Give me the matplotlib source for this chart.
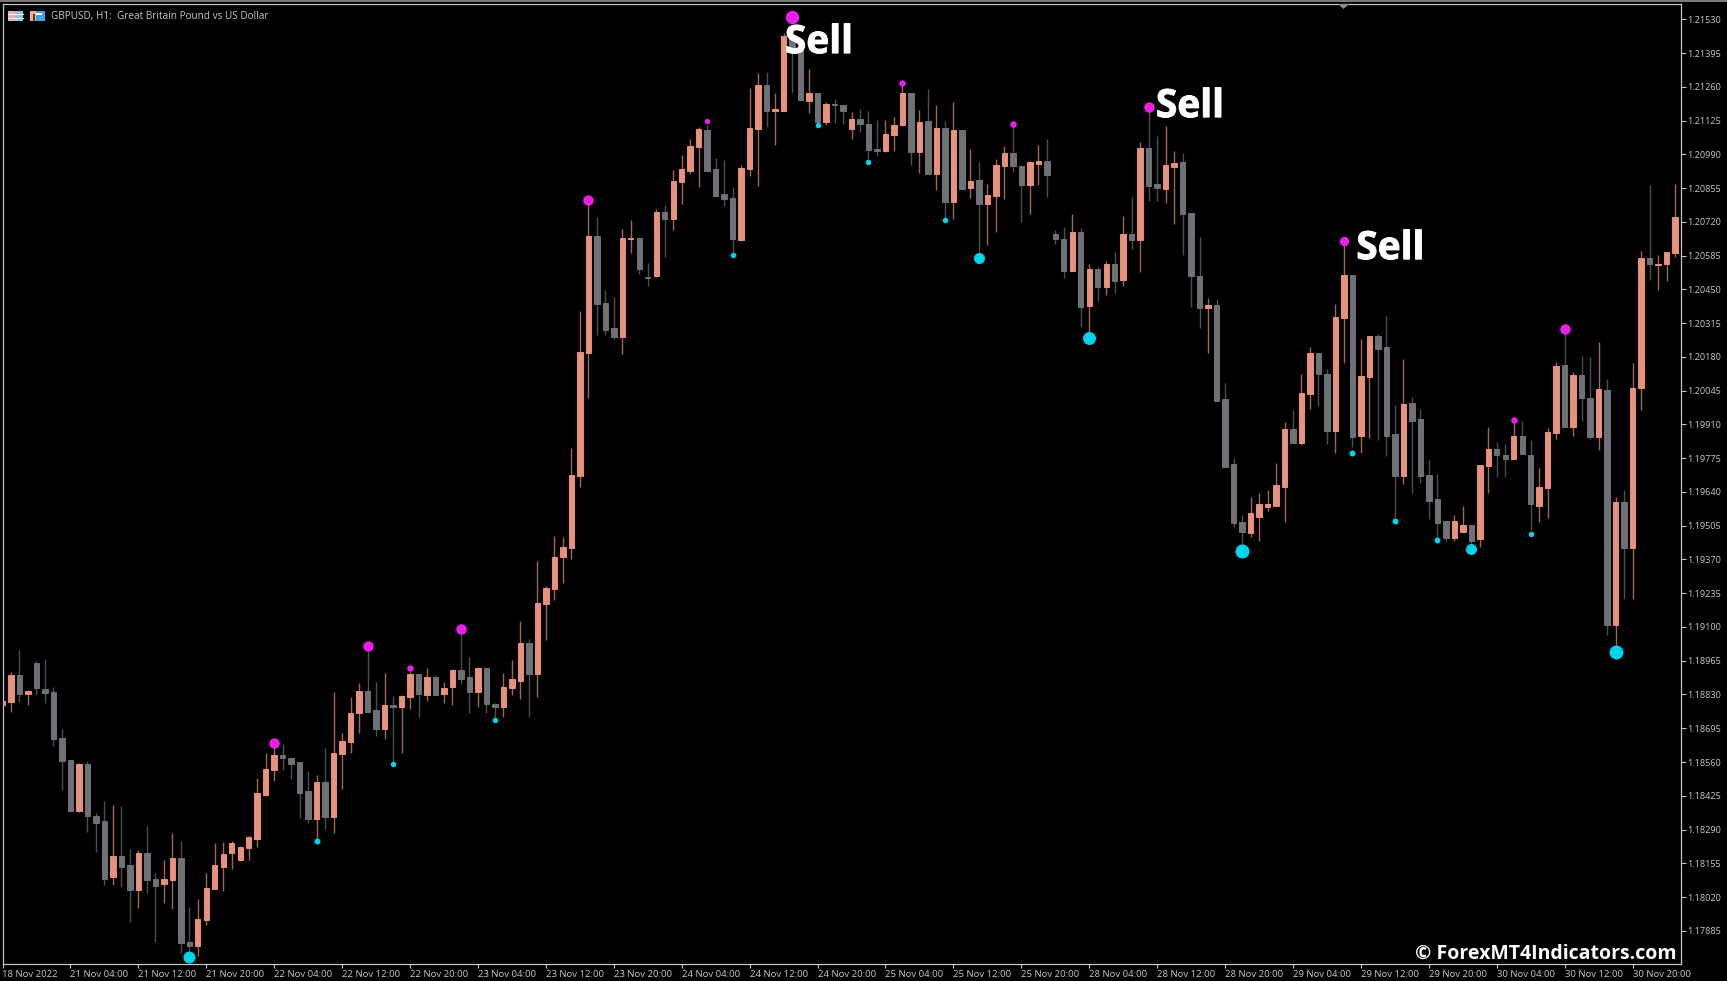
import numpy as np
import matplotlib
matplotlib.use('Agg')
import matplotlib.pyplot as plt
import matplotlib.patheffects as pe
from matplotlib.patches import Rectangle, Polygon

###### GBPUSD H1 candles ######
# values in 1e-5 price points, read against a grid that sits 30 points low (see to_price)
opens = [
    118757, 118769, 118877, 118801, 118925, 118821, 118809, 118625, 118537, 118333,
    118521, 118313, 118293, 118069, 118153, 118117, 118017, 118165, 118061, 118041,
    118057, 118145, 117809, 117793, 117897, 118021, 118109, 118165, 118137, 118185,
    118221, 118397, 118497, 118557, 118545, 118529, 118413, 118301, 118449, 118309,
    118561, 118609, 118725, 118813, 118737, 118661, 118757, 118749, 118789, 118881,
    118797, 118869, 118801, 118829, 118897, 118869, 118809, 118905, 118761, 118749,
    118825, 118853, 119005, 118881, 119161, 119221, 119349, 119385, 119673, 120165,
    120633, 120365, 120265, 120229, 120621, 120625, 120469, 120473, 120729, 120701,
    120849, 120893, 120989, 121057, 120901, 120801, 120785, 120617, 120901, 121061,
    121237, 121133, 121133, 121433, 121389, 121173, 121205, 121089, 121161, 121157,
    121061, 121101, 121081, 120981, 120973, 121037, 121077, 121205, 120969, 121093,
    120881, 121065, 120769, 121057, 120825, 120857, 120761, 120793, 120913, 120965,
    120913, 120837, 120921, 120933, 120641, 120621, 120493, 120649, 120353, 120501,
    120429, 120521, 120457, 120641, 120617, 120985, 120841, 120821, 120909, 120929,
    120725, 120473, 120345, 120357, 119981, 119721, 119489, 119445, 119509, 119549,
    119553, 119629, 119861, 119805, 120001, 120165, 120081, 119853, 120305, 120477,
    119833, 120069, 120233, 120189, 119841, 119673, 119965, 119901, 119677, 119581,
    119493, 119425, 119449, 119477, 119421, 119713, 119781, 119757, 119741, 119833,
    119757, 119553, 119625, 119845, 120117, 119869, 120077, 119985, 119829, 120017,
    119077, 119569, 119385, 120025, 120545, 120517, 120521, 120565]
closes = [
    118773, 118877, 118801, 118813, 118825, 118805, 118621, 118533, 118333, 118521,
    118313, 118285, 118061, 118153, 118109, 118017, 118165, 118057, 118033, 118061,
    118145, 117805, 117793, 117901, 118025, 118117, 118161, 118205, 118189, 118229,
    118405, 118501, 118557, 118545, 118521, 118405, 118301, 118449, 118309, 118565,
    118613, 118725, 118813, 118729, 118661, 118757, 118749, 118793, 118881, 118801,
    118869, 118797, 118825, 118897, 118861, 118809, 118905, 118761, 118749, 118829,
    118861, 119005, 118881, 119165, 119225, 119349, 119389, 119677, 120169, 120633,
    120361, 120257, 120229, 120625, 120625, 120501, 120465, 120729, 120701, 120853,
    120901, 120993, 121061, 120893, 120793, 120781, 120621, 120905, 121065, 121237,
    121133, 121141, 121433, 121377, 121177, 121205, 121089, 121161, 121157, 121133,
    121101, 121081, 120977, 120973, 121041, 121077, 121205, 120969, 121089, 120881,
    121065, 120769, 121057, 120821, 120853, 120761, 120797, 120917, 120965, 120913,
    120837, 120929, 120933, 120877, 120621, 120493, 120649, 120349, 120501, 120429,
    120521, 120453, 120641, 120617, 120985, 120833, 120825, 120917, 120925, 120721,
    120473, 120345, 120357, 119973, 119709, 119485, 119449, 119525, 119561, 119561,
    119637, 119861, 119805, 120005, 120165, 120081, 119853, 120309, 120477, 119829,
    120073, 120233, 120181, 119833, 119673, 119961, 119893, 119673, 119573, 119485,
    119425, 119493, 119477, 119413, 119717, 119781, 119757, 119741, 119833, 119761,
    119561, 119629, 119849, 120113, 119869, 120077, 119985, 119829, 120021, 119077,
    119569, 119385, 120025, 120545, 120521, 120521, 120569, 120709]
highs = [
    118773, 118889, 118977, 118817, 118933, 118941, 118829, 118661, 118537, 118525,
    118533, 118325, 118373, 118357, 118353, 118181, 118177, 118273, 118085, 118137,
    118245, 118213, 117949, 117981, 118085, 118205, 118209, 118213, 118193, 118233,
    118465, 118565, 118589, 118601, 118549, 118529, 118493, 118477, 118585, 118809,
    118645, 118789, 118845, 118977, 118849, 118885, 118793, 118797, 118889, 118881,
    118905, 118877, 118849, 118901, 119041, 118949, 118909, 118905, 118765, 118885,
    118937, 119093, 119021, 119333, 119233, 119433, 119429, 119785, 120333, 120765,
    120709, 120417, 120389, 120661, 120697, 120629, 120525, 120741, 120757, 120897,
    120957, 121021, 121069, 121077, 120945, 120937, 120829, 120917, 121225, 121285,
    121289, 121205, 121445, 121477, 121417, 121301, 121205, 121169, 121181, 121157,
    121129, 121141, 121133, 121097, 121097, 121109, 121237, 121205, 121137, 121221,
    121157, 121093, 121169, 121057, 120981, 120929, 120841, 120941, 120993, 121077,
    120913, 120933, 120997, 121021, 120657, 120669, 120721, 120665, 120521, 120509,
    120533, 120569, 120713, 120789, 121009, 121137, 121033, 121073, 120973, 120965,
    120725, 120629, 120385, 120381, 120045, 119745, 119517, 119589, 119605, 119617,
    119725, 119889, 119937, 120081, 120189, 120165, 120101, 120361, 120597, 120477,
    120221, 120233, 120241, 120313, 119957, 120141, 119989, 119941, 119737, 119681,
    119493, 119517, 119553, 119477, 119717, 119869, 119809, 119801, 119885, 119893,
    119817, 119705, 119865, 120129, 120245, 120089, 120153, 120149, 120209, 120061,
    119589, 119617, 120125, 120573, 120837, 120557, 120569, 120841]
lows = [
    118757, 118729, 118769, 118757, 118797, 118765, 118593, 118417, 118333, 118329,
    118249, 118169, 118037, 118037, 118029, 117889, 117945, 118005, 117809, 117965,
    117941, 117765, 117753, 117753, 117877, 118021, 118013, 118101, 118133, 118137,
    118189, 118393, 118453, 118497, 118461, 118305, 118285, 118217, 118261, 118245,
    118421, 118565, 118645, 118729, 118633, 118621, 118529, 118565, 118741, 118709,
    118773, 118797, 118765, 118757, 118841, 118725, 118749, 118725, 118705, 118709,
    118797, 118781, 118709, 118789, 119017, 119177, 119245, 119341, 119629, 119985,
    120237, 120237, 120221, 120161, 120565, 120481, 120433, 120469, 120549, 120657,
    120761, 120881, 120829, 120893, 120789, 120753, 120565, 120613, 120873, 120833,
    121069, 120997, 121133, 121205, 121177, 121125, 121085, 121077, 121085, 121081,
    121021, 121049, 120937, 120953, 120969, 120973, 121073, 120917, 120885, 120881,
    120817, 120705, 120701, 120817, 120785, 120557, 120597, 120649, 120781, 120889,
    120689, 120721, 120837, 120789, 120601, 120465, 120493, 120269, 120245, 120373,
    120397, 120405, 120433, 120581, 120489, 120773, 120773, 120765, 120681, 120557,
    120349, 120265, 120165, 119973, 119709, 119469, 119389, 119429, 119413, 119533,
    119553, 119489, 119805, 119797, 119941, 119953, 119801, 119765, 120125, 119789,
    119765, 119825, 119817, 119753, 119505, 119641, 119605, 119645, 119501, 119425,
    119413, 119413, 119449, 119389, 119389, 119605, 119669, 119669, 119741, 119761,
    119457, 119489, 119505, 119821, 119869, 119833, 119893, 119821, 119777, 119037,
    118997, 119181, 119181, 119937, 120457, 120417, 120453, 120549]

# signal dots: bar index and price (same points as above)
sell_bars = [32, 43, 48, 54, 69, 83, 93, 106, 119, 135, 158, 178, 184]
sell_prices = [118605, 118993, 118905, 119061, 120777, 121093, 121509, 121245, 121081, 121149, 120613, 119897, 120261]
buy_bars = [22, 37, 46, 58, 86, 96, 102, 111, 115, 128, 146, 159, 164, 169, 173, 180, 190]
buy_prices = [117749, 118213, 118521, 118697, 120557, 121077, 120929, 120697, 120545, 120225, 119373, 119765, 119493, 119417, 119381, 119441, 118969]
sell_sizes = [10.5, 10.5, 6.5, 10.5, 10.5, 5.5, 13.5, 6.5, 6.5, 10.5, 9.5, 6.5, 10.5]
buy_sizes = [12, 6, 5.5, 5.5, 5.5, 5.5, 5.5, 5.5, 11, 13, 14, 6, 6, 6, 11, 5.5, 14]

y_tick_labels = ['1.21530', '1.21395', '1.21260', '1.21125', '1.20990', '1.20855', '1.20720',
                 '1.20585', '1.20450', '1.20315', '1.20180', '1.20045', '1.19910', '1.19775',
                 '1.19640', '1.19505', '1.19370', '1.19235', '1.19100', '1.18965', '1.18830',
                 '1.18695', '1.18560', '1.18425', '1.18290', '1.18155', '1.18020', '1.17885']
x_tick_labels = ['18 Nov 2022', '21 Nov 04:00', '21 Nov 12:00', '21 Nov 20:00', '22 Nov 04:00',
                 '22 Nov 12:00', '22 Nov 20:00', '23 Nov 04:00', '23 Nov 12:00', '23 Nov 20:00',
                 '24 Nov 04:00', '24 Nov 12:00', '24 Nov 20:00', '25 Nov 04:00', '25 Nov 12:00',
                 '25 Nov 20:00', '28 Nov 04:00', '28 Nov 12:00', '28 Nov 20:00', '29 Nov 04:00',
                 '29 Nov 12:00', '29 Nov 20:00', '30 Nov 04:00', '30 Nov 12:00', '30 Nov 20:00']


def to_price(points):
    return (np.array(points) + 30) / 1e5


UP = '#E8917C'
DOWN = '#6E7276'
SELL_DOT = '#E81FE8'
BUY_DOT = '#00D4EC'
AXIS = '#C4C4C4'
TEXT = '#C8C8C8'
W, H = 1727, 981

plt.rcParams['font.family'] = ['Open Sans', 'DejaVu Sans']
fig = plt.figure(figsize=(W/100, H/100), dpi=100, facecolor='black')
ax = fig.add_axes([2.5/W, (H-964)/H, 1678.5/W, 960/H], facecolor='black')
ax.set_xlim(0, 197.7)
ax.set_ylim(1.177523, 1.215912)

o, c, hi, lo = to_price(opens), to_price(closes), to_price(highs), to_price(lows)
x = np.arange(len(o))
colors = [UP if cc >= oo else DOWN for oo, cc in zip(o, c)]
ax.vlines(x, lo, hi, colors=colors, linewidth=1.0, alpha=0.7, zorder=2)
ax.bar(x, np.abs(c-o), bottom=np.minimum(o, c), width=0.64, color=colors, edgecolor=colors, linewidth=0.7, zorder=3)

for xx, yy, s in zip(sell_bars, to_price(sell_prices), sell_sizes):
    ax.plot(xx, yy, 'o', color=SELL_DOT, markersize=s*0.72, markeredgewidth=0, zorder=4, clip_on=False)
for xx, yy, s in zip(buy_bars, to_price(buy_prices), buy_sizes):
    ax.plot(xx, yy, 'o', color=BUY_DOT, markersize=s*0.72, markeredgewidth=0, zorder=4, clip_on=False)

# the three Sell captions
for xx, yy in [(92.15, 1.21395), (135.85, 1.21139), (159.45, 1.20571)]:
    t = ax.text(xx, yy, 'Sell', color='white', fontsize=28, fontweight='bold', ha='left', va='baseline', zorder=6)
    t.set_path_effects([pe.withStroke(linewidth=0.7, foreground='white')])

for side in ax.spines.values():
    side.set_color(AXIS)
    side.set_linewidth(0.9)

ax.yaxis.tick_right()
ax.set_yticks([float(v) for v in y_tick_labels])
ax.set_yticklabels(y_tick_labels)
ax.set_xticks(np.arange(0, 193, 8))
ax.set_xticklabels(x_tick_labels, ha='left')
ax.tick_params(axis='y', colors=AXIS, labelcolor=TEXT, length=3.5, width=0.8, pad=1.2, labelsize=6.6)
ax.tick_params(axis='x', colors=AXIS, labelcolor=TEXT, length=3, width=0.8, pad=1.5, labelsize=6.8)

# overlay in pixel coordinates for the window furniture
top = fig.add_axes([0, 0, 1, 1], facecolor='none', zorder=5)
top.set_xlim(0, W)
top.set_ylim(H, 0)
top.axis('off')
top.add_patch(Rectangle((0, 0), W, 2, color='#7A7A7A', lw=0))
top.add_patch(Polygon([[1338, 4], [1349, 4], [1343.5, 9]], color='#8A8A8A', lw=0))

top.add_patch(Rectangle((8, 11), 7, 10, color='#F2A9A9', lw=0))
top.add_patch(Rectangle((15, 11), 8, 10, color='#8CC0EE', lw=0))
for yy in [14, 17.5]:
    top.plot([8, 23], [yy, yy], color='white', lw=0.8)
top.add_patch(Rectangle((30, 11), 6, 10, color='#F0B090', lw=0))
top.add_patch(Rectangle((36, 11), 9, 10, color='#3FA3E6', lw=0))
top.add_patch(Rectangle((36, 13), 6, 2, color='white', lw=0))
top.add_patch(Rectangle((33, 14), 2, 7, color='#5A3A2A', lw=0))

top.text(51, 16, 'GBPUSD, H1:  Great Britain Pound vs US Dollar', color=TEXT, fontsize=7.2, ha='left', va='center')
top.text(1677, 959, '© ForexMT4Indicators.com', color='white', fontsize=14, fontweight='bold', ha='right', va='baseline')

fig.savefig('out.png', dpi=100, facecolor='black')
